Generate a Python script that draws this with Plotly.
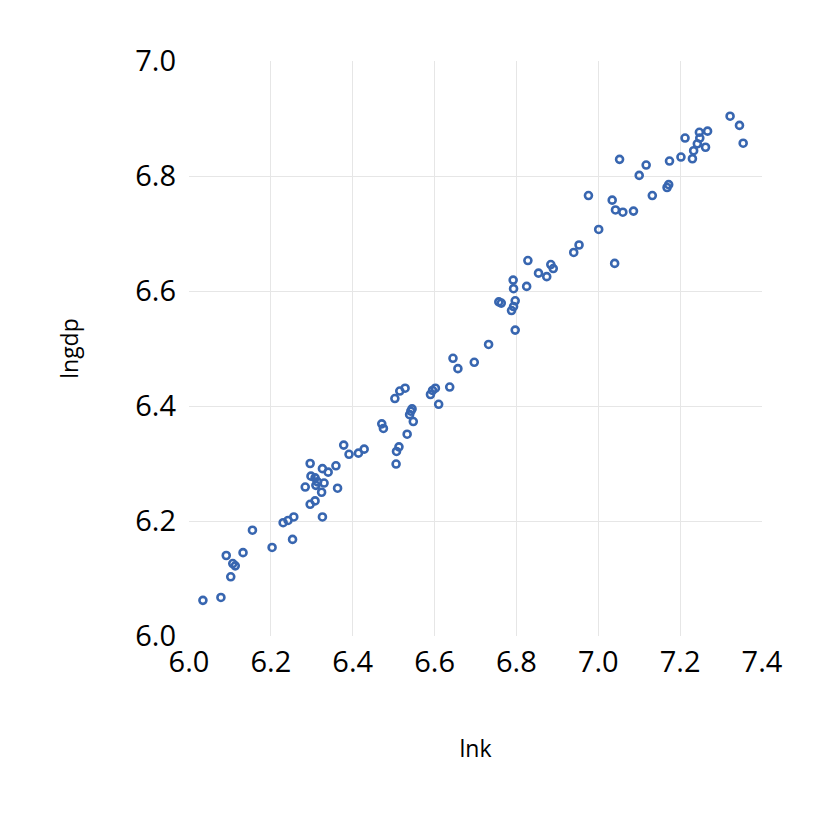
import plotly.graph_objects as go

# lnk / lngdp pairs
lnk = [
    6.034, 6.078, 6.091, 6.102, 6.107, 6.113, 6.132, 6.155, 6.203, 6.230,
    6.242, 6.256, 6.253, 6.296, 6.326, 6.340, 6.359, 6.298, 6.308, 6.314,
    6.330, 6.284, 6.310, 6.363, 6.324, 6.308, 6.296, 6.326, 6.378, 6.391,
    6.414, 6.428, 6.471, 6.475, 6.506, 6.507, 6.513, 6.533, 6.539, 6.542,
    6.545, 6.548, 6.503, 6.515, 6.528, 6.590, 6.595, 6.602, 6.610, 6.637,
    6.645, 6.657, 6.697, 6.732, 6.757, 6.763, 6.797, 6.793, 6.788, 6.797,
    6.792, 6.793, 6.825, 6.828, 6.854, 6.874, 6.884, 6.890, 6.940, 6.953,
    7.001, 6.976, 7.034, 7.042, 7.040, 7.060, 7.086, 7.052, 7.100, 7.117,
    7.132, 7.168, 7.172, 7.174, 7.202, 7.212, 7.230, 7.233, 7.242, 7.248,
    7.247, 7.262, 7.267, 7.322, 7.345, 7.354,
]
lngdp = [
    6.062, 6.067, 6.140, 6.103, 6.126, 6.122, 6.145, 6.184, 6.154, 6.197,
    6.201, 6.207, 6.168, 6.300, 6.291, 6.285, 6.296, 6.278, 6.275, 6.268,
    6.266, 6.259, 6.262, 6.257, 6.250, 6.235, 6.229, 6.207, 6.332, 6.316,
    6.318, 6.325, 6.369, 6.361, 6.299, 6.321, 6.329, 6.351, 6.385, 6.391,
    6.395, 6.373, 6.413, 6.426, 6.431, 6.420, 6.427, 6.431, 6.403, 6.433,
    6.483, 6.465, 6.476, 6.507, 6.581, 6.579, 6.583, 6.573, 6.566, 6.532,
    6.619, 6.604, 6.608, 6.653, 6.631, 6.625, 6.646, 6.639, 6.667, 6.680,
    6.707, 6.766, 6.758, 6.741, 6.648, 6.737, 6.739, 6.829, 6.801, 6.819,
    6.766, 6.780, 6.785, 6.826, 6.833, 6.866, 6.830, 6.844, 6.856, 6.866,
    6.876, 6.850, 6.878, 6.904, 6.888, 6.857,
]

x_ticks = [6.0, 6.2, 6.4, 6.6, 6.8, 7.0, 7.2, 7.4]
y_ticks = [6.0, 6.2, 6.4, 6.6, 6.8, 7.0]

FONT = "Open Sans"
BLUE = "#3866b0"

fig = go.Figure(
    go.Scatter(
        x=lnk,
        y=lngdp,
        mode="markers",
        marker=dict(symbol="circle-open", size=7, color=BLUE, line=dict(width=2.6, color=BLUE)),
    )
)

# page body has an 8px margin, so the plot box is shifted back by that much
fig.update_layout(
    width=828,
    height=818,
    margin=dict(l=181, r=74, t=53, b=190),
    paper_bgcolor="white",
    plot_bgcolor="white",
    showlegend=False,
    font=dict(family=FONT, color="#000000"),
)
fig.update_xaxes(
    range=[6.0, 7.4],
    tickvals=x_ticks,
    ticktext=[f"{v:.1f}" for v in x_ticks],
    tickfont=dict(size=29),
    ticklabelstandoff=6,
    showgrid=True,
    gridcolor="#e6e6e6",
    gridwidth=1,
    zeroline=False,
    showline=False,
    title=dict(text="lnk", font=dict(size=23), standoff=61),
)
fig.update_yaxes(
    range=[6.0, 7.0],
    tickvals=y_ticks,
    ticktext=[f"{v:.1f}" for v in y_ticks],
    tickfont=dict(size=29),
    ticklabelstandoff=12,
    showgrid=True,
    gridcolor="#e6e6e6",
    gridwidth=1,
    zeroline=False,
    showline=False,
    title=dict(text="lngdp", font=dict(size=23), standoff=50),
)

fig.write_html("out.html")
